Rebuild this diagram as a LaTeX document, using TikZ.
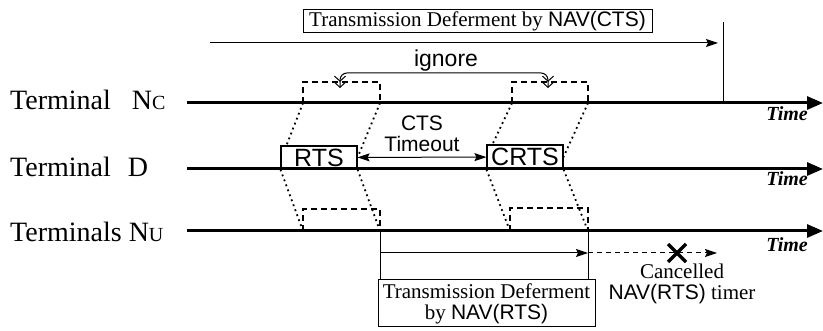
\documentclass[tikz,border=0pt]{standalone}
\usepackage{fontspec}
\setmainfont{Liberation Serif}
\setsansfont{Liberation Sans}
\usetikzlibrary{arrows.meta}

\newcommand{\sz}[1]{\fontsize{#1}{#1}\selectfont}

\begin{document}
\begin{tikzpicture}[x=1pt, y=-1pt,
  timeline/.style={line width=3pt, -{Triangle[length=16pt,width=13pt]}},
  termlabel/.style={anchor=base west, inner sep=0pt, font=\sz{28}},
  timelabel/.style={anchor=base east, inner sep=0pt, font=\sz{20}\itshape\bfseries},
  pkt/.style={draw, line width=1.1pt, inner sep=0pt, minimum width=76pt, minimum height=23pt, font=\sffamily\sz{25}},
  navbox/.style={draw, line width=1pt, inner sep=0pt, align=center},
  timer/.style={line width=1pt, -{Stealth[length=12pt,width=8pt,inset=2pt]}},
  ghost/.style={line width=1.3pt, dash pattern=on 6pt off 4pt},
  hop/.style={line width=1.8pt, dash pattern=on 1.8pt off 3.5pt},
  ignarrow/.style={line width=1pt, rounded corners=7pt,
    {Straight Barb[length=5pt,width=11pt]Straight Barb[length=5pt,width=11pt]}-{Straight Barb[length=5pt,width=11pt]Straight Barb[length=5pt,width=11pt]}}]

  \useasboundingbox (0,0) rectangle (823,331);

  % time lines
  \coordinate (Nc0) at (187,103); \coordinate (Nc1) at (823,103);
  \coordinate (D0) at (187,169);  \coordinate (D1) at (823,169);
  \coordinate (Nu0) at (187,231); \coordinate (Nu1) at (823,231);
  \draw[timeline] (Nc0) -- (Nc1);
  \draw[timeline] (D0) -- (D1);
  \draw[timeline] (Nu0) -- (Nu1);

  \node[termlabel] (labNc) at (10,110) {Terminal\hspace{21pt}N{\sz{20}C}};
  \node[termlabel] (labD) at (10,177) {Terminal\hspace{17pt}D};
  \node[termlabel] (labNu) at (10,242) {Terminals N{\sz{20}U}};

  \node[timelabel] (timeNc) at (808,121) {Time};
  \node[timelabel] (timeD) at (808,186) {Time};
  \node[timelabel] (timeNu) at (808,252) {Time};

  % NAV(CTS) at Nc
  \node[navbox, minimum width=349pt, minimum height=23pt, font=\sz{21}] (ctsnav) at (477.5,21.5)
    {Transmission Deferment by \textsf{NAV(CTS)}};
  \coordinate (ctsA) at (210,43);
  \coordinate (ctsB) at (718,43);
  \coordinate (ctsEnd) at (723,22);
  \draw[timer] (ctsA) -- (ctsB);
  \draw[line width=1pt] (ctsEnd) -- (ctsEnd |- Nc0);

  % packets at D
  \node[pkt] (rts) at (319,157.5) {RTS};
  \node[pkt, minimum height=24pt] (crts) at (525,157) {CRTS};
  \draw[timer, {Stealth[length=12pt,width=8pt,inset=2pt]}-{Stealth[length=12pt,width=8pt,inset=2pt]}] (rts) -- (crts);
  \node[anchor=south, inner sep=0pt, align=center, font=\sffamily\sz{21}] (timeout) at (422,152) {CTS\\Timeout};

  % overheard copies at Nc and Nu
  \coordinate (ncL1) at (303,103); \coordinate (ncL2) at (380,103);
  \coordinate (ncR1) at (512,103); \coordinate (ncR2) at (588,103);
  \coordinate (nuL1) at (303,231); \coordinate (nuL2) at (380,231);
  \coordinate (nuR1) at (510,231); \coordinate (nuR2) at (588,231);
  \draw[ghost] (ncL1) -- ++(0,-21) -| (ncL2);
  \draw[ghost] (ncR1) -- ++(0,-21) -| (ncR2);
  \draw[ghost] (nuL1) -- ++(0,-22) -| (nuL2);
  \draw[ghost] (nuR1) -- ++(0,-23) -| (nuR2);

  \draw[hop] (ncL1) -- ([xshift=6pt]rts.north west);
  \draw[hop] (ncL2) -- (rts.east);
  \draw[hop] (rts.south west) -- (nuL1);
  \draw[hop] (rts.south east) -- (nuL2);
  \draw[hop] (ncR1) -- ([xshift=6pt]crts.north west);
  \draw[hop] (ncR2) -- (crts.east);
  \draw[hop] (crts.south west) -- (nuR1);
  \draw[hop] (crts.south east) -- (nuR2);

  % ignore
  \node[anchor=base, inner sep=0pt, font=\sffamily\sz{23}] (ign) at (446,67) {ignore};
  \coordinate (ignL) at (340,88);
  \coordinate (ignR) at (548,88);
  \draw[ignarrow] (ignL) |- ([yshift=15pt]ignR) -- (ignR);

  % NAV(RTS) at Nu
  \node[navbox, minimum width=217pt, minimum height=47pt, font=\sz{21}] (rtsnav) at (486.5,303.5)
    {Transmission Deferment\\by \textsf{NAV(RTS)}};
  \draw[line width=1pt] (nuL2) -- (nuL2 |- rtsnav.north);
  \draw[line width=1pt] (nuR2) -- (nuR2 |- rtsnav.north);
  \coordinate (navA) at (380,253);
  \coordinate (navB) at (588,253);
  \coordinate (navC) at (717,253);
  \draw[timer] (navA) -- (navB);
  \draw[timer, dash pattern=on 5pt off 4pt] (navB) -- (navC);

  % cancelled timer
  \coordinate (cross) at (677,253);
  \draw[line width=3.5pt] ([shift={(-9pt,-9pt)}]cross) -- ([shift={(9pt,9pt)}]cross);
  \draw[line width=3.5pt] ([shift={(-9pt,9pt)}]cross) -- ([shift={(9pt,-9pt)}]cross);
  \node[anchor=north, inner sep=0pt, align=center, font=\sz{21}] (cancel) at (682,264)
    {Cancelled\\\textsf{NAV(RTS)} timer};
\end{tikzpicture}
\end{document}
